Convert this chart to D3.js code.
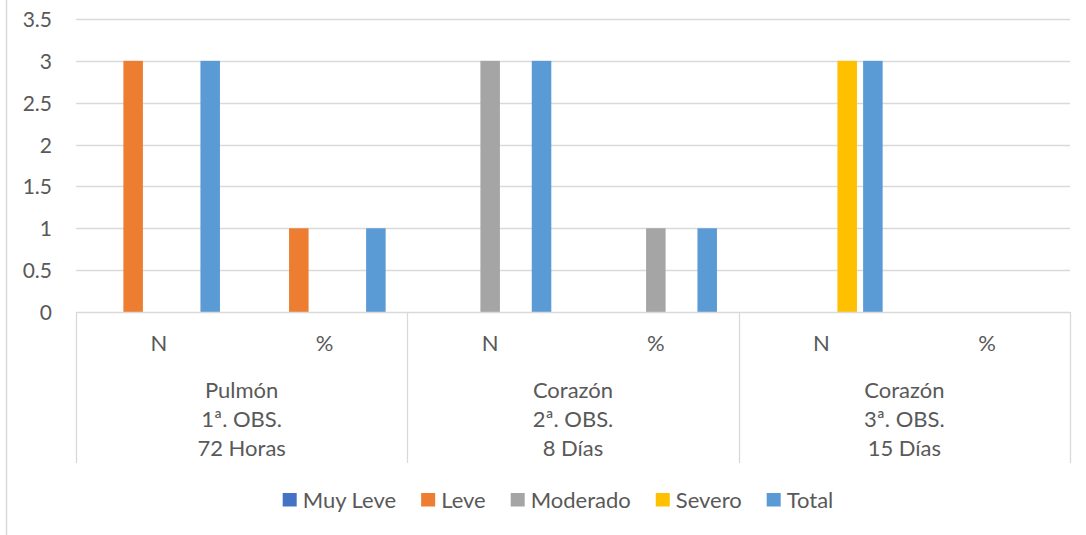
<!DOCTYPE html>
<html><head><meta charset="utf-8">
<script src="https://cdn.jsdelivr.net/npm/d3@7"></script>
<style>body{margin:0;background:#fff}svg{display:block}text{font-family:Lato,"Open Sans",sans-serif;fill:#595959}</style>
</head><body><svg id="c" width="1086" height="535"></svg>
<script>
const groups = ["Pulmón|1ª. OBS.|72 Horas", "Corazón|2ª. OBS.|8 Días", "Corazón|3ª. OBS.|15 Días"];
const subcats = ["N", "%"];
const series = ["Muy Leve", "Leve", "Moderado", "Severo", "Total"];
const colors = ["#4472C4", "#ED7D31", "#A5A5A5", "#FFC000", "#5B9BD5"];
// values per category (group x subcat), order of series
const muyLeve  = [0, 0, 0, 0, 0, 0];
const leve     = [3, 1, 0, 0, 0, 0];
const moderado = [0, 0, 3, 1, 0, 0];
const severo   = [0, 0, 0, 0, 3, 0];
const total    = [3, 1, 3, 1, 3, 0];
const yTicks = [0, 0.5, 1, 1.5, 2, 2.5, 3, 3.5];

const seriesVals = [muyLeve, leve, moderado, severo, total];
const cats = [];
groups.forEach((g, gi) => subcats.forEach((s, si) => cats.push({id: gi + "_" + si, g: gi, s})));

const svg = d3.select("#c");
const L = 76, R = 1070, T = 19, B = 312;

svg.append("line").attr("x1", 6.5).attr("x2", 6.5).attr("y1", 0).attr("y2", 535).attr("stroke", "#d9d9d9").attr("stroke-width", 1.5);

const y = d3.scaleLinear().domain([0, 3.5]).range([B, T]);
const x0 = d3.scaleBand().domain(cats.map(c => c.id)).range([L, R]).paddingInner(0.262).paddingOuter(0.131);
const x1 = d3.scaleBand().domain(series).range([0, x0.bandwidth()]).paddingInner(0.24);

// gridlines
svg.append("g").selectAll("line").data(yTicks.filter(t => t > 0)).join("line")
  .attr("x1", L).attr("x2", R).attr("y1", d => Math.round(y(d)) + 0.5).attr("y2", d => Math.round(y(d)) + 0.5)
  .attr("stroke", "#d9d9d9").attr("stroke-width", 1.3);

// y axis labels
const yAxis = d3.axisLeft(y).tickValues(yTicks).tickSize(0).tickPadding(0).tickFormat(d3.format("~g"));
const ya = svg.append("g").attr("transform", `translate(${52},0)`).call(yAxis);
ya.select(".domain").remove();
ya.selectAll("text").style("font-size", "21px").attr("fill", "#595959").attr("dy", "0.36em").attr("font-family", "Lato");

// bars
const cg = svg.append("g").selectAll("g").data(cats).join("g").attr("transform", d => `translate(${x0(d.id)},0)`);
cg.selectAll("rect").data((d, ci) => series.map((s, si) => ({s, si, v: seriesVals[si][ci]})).filter(e => e.v > 0)).join("rect")
  .attr("x", d => x1(d.s)).attr("width", x1.bandwidth())
  .attr("y", d => y(d.v)).attr("height", d => y(0) - y(d.v))
  .attr("fill", d => colors[d.si]);

// category axis
const axG = svg.append("g");
axG.append("line").attr("x1", L).attr("x2", R).attr("y1", B + 0.5).attr("y2", B + 0.5).attr("stroke", "#d9d9d9").attr("stroke-width", 1.3);
const step = x0.step();
const bounds = d3.range(groups.length + 1).map(i => L + i * subcats.length * step);
axG.selectAll("line.v").data(bounds).join("line").attr("class", "v")
  .attr("x1", d => Math.round(d) + 0.5).attr("x2", d => Math.round(d) + 0.5).attr("y1", B).attr("y2", 463)
  .attr("stroke", "#d9d9d9").attr("stroke-width", 1.3);
axG.selectAll("text.sub").data(cats).join("text").attr("class", "sub")
  .attr("x", d => x0(d.id) + x0.bandwidth() / 2).attr("y", 343).attr("dy", "0.36em")
  .attr("text-anchor", "middle").style("font-size", "22px").text(d => d.s);
const gt = axG.selectAll("text.grp").data(groups).join("text").attr("class", "grp")
  .attr("x", (d, i) => (bounds[i] + bounds[i + 1]) / 2).attr("y", 390)
  .attr("text-anchor", "middle").style("font-size", "22px");
gt.selectAll("tspan").data(d => d.split("|")).join("tspan")
  .attr("x", function() { return d3.select(this.parentNode).attr("x"); })
  .attr("y", (d, i) => 390 + i * 29).attr("dy", "0.36em").text(d => d);

// legend
const lg = svg.append("g");
const items = lg.selectAll("g").data(series).join("g");
items.append("rect").attr("width", 14).attr("height", 13.5).attr("y", 493).attr("fill", (d, i) => colors[i]);
items.append("text").attr("x", 20).attr("y", 500).attr("dy", "0.36em").style("font-size", "22px").text(d => d);
const widths = [];
items.each(function() { widths.push(this.querySelector("text").getComputedTextLength() + 20); });
const gap = 25;
const totalW = d3.sum(widths) + gap * (widths.length - 1);
let start = 558 - totalW / 2;
items.attr("transform", (d, i) => { const t = `translate(${start},0)`; start += widths[i] + gap; return t; });
</script></body></html>
